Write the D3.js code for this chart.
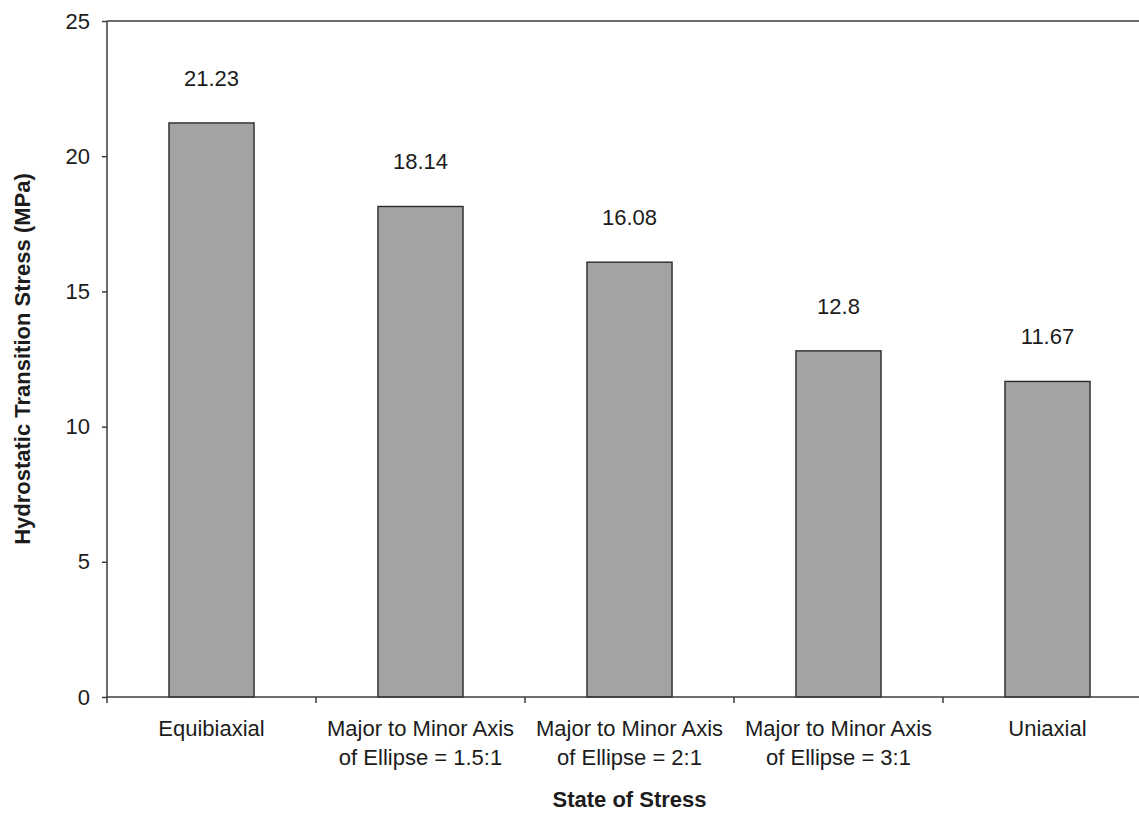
<!DOCTYPE html>
<html>
<head>
<meta charset="utf-8">
<script src="https://cdn.jsdelivr.net/npm/d3@7"></script>
<style>
  html, body { margin: 0; padding: 0; background: #fff; }
  svg { display: block; font-family: "Liberation Sans", Arial, Helvetica, sans-serif; }
</style>
</head>
<body>
<svg id="chart" width="1139" height="817"></svg>
<script>
// Hydrostatic transition stress for each state of stress
const categories = [
  ["Equibiaxial"],
  ["Major to Minor Axis", "of Ellipse = 1.5:1"],
  ["Major to Minor Axis", "of Ellipse = 2:1"],
  ["Major to Minor Axis", "of Ellipse = 3:1"],
  ["Uniaxial"]
];
const values = [21.23, 18.14, 16.08, 12.8, 11.67];
const valueLabels = ["21.23", "18.14", "16.08", "12.8", "11.67"];
const yTicks = [0, 5, 10, 15, 20, 25];
const yTitle = "Hydrostatic Transition Stress (MPa)";
const xTitle = "State of Stress";

const svg = d3.select("#chart");
const plot = { left: 107, top: 21, right: 1152, bottom: 697 };
const axisColor = "#3c3c3c";
const textColor = "#1c1c1c";

const keys = categories.map((c, i) => i);
const x = d3.scaleBand().domain(keys).range([plot.left, plot.right]).padding(0);
const y = d3.scaleLinear().domain([0, 25]).range([plot.bottom, plot.top]);
const barW = x.bandwidth() * 0.407;

// bars
svg.append("g").selectAll("rect")
  .data(values)
  .join("rect")
  .attr("x", (d, i) => x(i) + (x.bandwidth() - barW) / 2)
  .attr("y", d => y(d))
  .attr("width", barW)
  .attr("height", d => y(0) - y(d))
  .attr("fill", "#a3a3a3")
  .attr("stroke", "#2a2a2a")
  .attr("stroke-width", 1.4);

// value labels above bars
svg.append("g").selectAll("text")
  .data(values)
  .join("text")
  .attr("x", (d, i) => x(i) + x.bandwidth() / 2)
  .attr("y", d => y(d) - 37)
  .attr("text-anchor", "middle")
  .attr("font-size", 22)
  .attr("fill", textColor)
  .text((d, i) => valueLabels[i]);

// left axis
const yAxis = svg.append("g")
  .attr("transform", `translate(${plot.left},0)`)
  .call(d3.axisLeft(y).tickValues(yTicks).tickSize(5).tickPadding(12).tickFormat(d3.format("d")));
yAxis.selectAll("path, line").attr("stroke", axisColor).attr("stroke-width", 1.5);
yAxis.selectAll("text").attr("font-size", 22).attr("fill", textColor)
  .attr("font-family", "'Liberation Sans', Arial, sans-serif");
yAxis.select(".domain").attr("d", `M0,${plot.top}V${plot.bottom}`);

// top frame line
svg.append("line")
  .attr("x1", plot.left).attr("x2", plot.right)
  .attr("y1", y(25)).attr("y2", y(25))
  .attr("stroke", axisColor).attr("stroke-width", 1.5);

// bottom axis: baseline with ticks between categories
const xg = svg.append("g");
xg.append("line")
  .attr("x1", plot.left).attr("x2", plot.right)
  .attr("y1", y(0)).attr("y2", y(0))
  .attr("stroke", axisColor).attr("stroke-width", 1.5);
const boundaries = keys.map(k => x(k)).concat([x.range()[1]]);
xg.selectAll("line.tick")
  .data(boundaries)
  .join("line")
  .attr("class", "tick")
  .attr("x1", d => d).attr("x2", d => d)
  .attr("y1", y(0)).attr("y2", y(0) + 6)
  .attr("stroke", axisColor).attr("stroke-width", 1.5);

const catText = xg.selectAll("text.cat")
  .data(categories)
  .join("text")
  .attr("class", "cat")
  .attr("text-anchor", "middle")
  .attr("font-size", 22)
  .attr("fill", textColor);
catText.selectAll("tspan")
  .data((d, i) => d.map(line => ({ line, i })))
  .join("tspan")
  .attr("x", d => x(d.i) + x.bandwidth() / 2)
  .attr("y", (d, j) => 736 + j * 29)
  .text(d => d.line);

// axis titles
svg.append("text")
  .attr("x", (plot.left + plot.right) / 2)
  .attr("y", 807)
  .attr("text-anchor", "middle")
  .attr("font-size", 22)
  .attr("font-weight", "bold")
  .attr("fill", textColor)
  .text(xTitle);

svg.append("text")
  .attr("transform", `translate(30,${(plot.top + plot.bottom) / 2}) rotate(-90)`)
  .attr("text-anchor", "middle")
  .attr("font-size", 22)
  .attr("font-weight", "bold")
  .attr("fill", textColor)
  .text(yTitle);
</script>
</body>
</html>
